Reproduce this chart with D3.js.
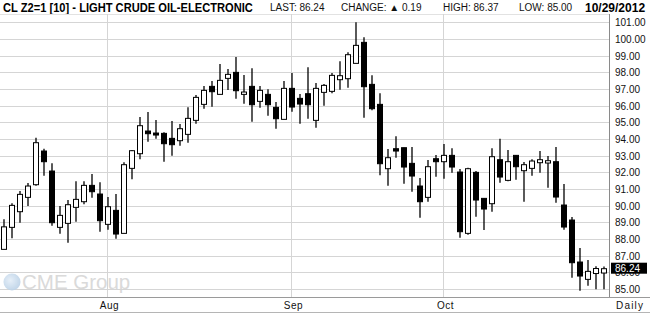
<!DOCTYPE html>
<html>
<head>
<meta charset="utf-8">
<script src="https://cdn.jsdelivr.net/npm/d3@7"></script>
<style>
  body { margin: 0; background: #fff; }
  svg { display: block; font-family: "Liberation Sans", Arial, sans-serif; }
</style>
</head>
<body>
<div id="chart"></div>
<script>
// trading days, 13 Jul 2012 - 29 Oct 2012
const dates = [
  "2012-07-13","2012-07-16","2012-07-17","2012-07-18","2012-07-19","2012-07-20",
  "2012-07-23","2012-07-24","2012-07-25","2012-07-26","2012-07-27","2012-07-30","2012-07-31",
  "2012-08-01","2012-08-02","2012-08-03","2012-08-06","2012-08-07","2012-08-08","2012-08-09",
  "2012-08-10","2012-08-13","2012-08-14","2012-08-15","2012-08-16","2012-08-17","2012-08-20",
  "2012-08-21","2012-08-22","2012-08-23","2012-08-24","2012-08-27","2012-08-28","2012-08-29",
  "2012-08-30","2012-08-31",
  "2012-09-04","2012-09-05","2012-09-06","2012-09-07","2012-09-10","2012-09-11","2012-09-12",
  "2012-09-13","2012-09-14","2012-09-17","2012-09-18","2012-09-19","2012-09-20","2012-09-21",
  "2012-09-24","2012-09-25","2012-09-26","2012-09-27","2012-09-28",
  "2012-10-01","2012-10-02","2012-10-03","2012-10-04","2012-10-05","2012-10-08","2012-10-09",
  "2012-10-10","2012-10-11","2012-10-12","2012-10-15","2012-10-16","2012-10-17","2012-10-18",
  "2012-10-19","2012-10-22","2012-10-23","2012-10-24","2012-10-25","2012-10-26","2012-10-29"
];

const open = [
  87.40,88.72,89.66,90.52,91.28,93.30,92.10,88.72,88.96,89.92,90.26,91.24,90.72,
  88.90,89.74,88.36,92.26,93.14,94.50,94.38,94.36,94.06,93.92,94.30,95.14,96.10,97.18,
  96.70,97.66,98.02,96.70,97.18,96.28,96.70,95.92,95.20,
  97.06,96.46,96.74,95.14,96.82,96.88,97.58,97.64,98.56,99.82,97.30,96.10,92.24,93.44,
  93.50,92.56,91.20,90.52,92.84,
  92.66,93.04,92.04,88.36,92.02,90.46,90.14,92.78,91.54,93.04,92.12,92.26,92.60,92.58,
  92.66,90.06,89.16,86.64,85.60,85.95,85.98
];
const high = [
  89.20,90.16,90.90,91.38,94.10,93.44,92.56,90.00,90.36,91.48,91.48,91.92,91.42,
  90.54,90.72,92.62,93.36,95.34,95.64,95.16,94.42,95.10,94.92,95.92,96.66,97.20,97.50,
  98.52,98.22,98.94,97.86,98.26,97.20,97.00,96.24,97.50,
  97.98,96.72,98.32,97.38,97.32,97.98,98.68,99.22,101.02,100.12,97.84,96.76,93.42,94.18,
  93.50,93.54,91.68,92.76,93.06,
  93.72,93.46,92.22,92.30,92.10,90.46,93.46,94.04,93.36,93.06,92.64,92.80,93.30,93.00,
  93.54,91.32,89.34,87.48,86.76,86.38,86.37
];
const low = [
  87.40,88.06,89.00,90.00,91.22,91.82,88.82,88.34,87.80,89.06,90.10,90.50,88.46,
  88.58,88.04,88.36,91.60,92.80,93.86,94.04,92.66,93.02,93.62,93.80,94.94,95.84,95.96,
  96.70,96.96,96.44,96.14,95.06,95.90,95.42,94.64,95.20,
  95.66,94.94,95.24,94.70,96.02,96.76,96.98,97.10,98.56,95.30,95.74,91.84,91.22,92.90,
  91.34,90.86,89.30,90.26,91.76,
  91.64,92.00,88.10,88.28,89.36,88.56,89.66,91.40,91.48,91.58,90.26,91.82,92.00,91.10,
  90.20,88.58,85.70,84.92,85.22,85.00,85.00
];
const close = [
  88.75,90.04,90.70,91.20,93.80,92.66,89.00,89.44,90.08,90.40,91.24,90.86,89.12,
  89.96,88.32,92.48,93.32,94.82,94.34,94.26,93.74,93.68,94.64,95.26,96.52,96.94,96.86,
  97.54,97.90,96.92,96.84,96.08,96.94,96.08,95.24,97.06,
  95.94,96.12,96.08,97.06,97.24,97.84,97.82,99.08,99.64,97.16,95.84,92.54,92.90,93.30,
  92.34,91.80,90.26,92.36,92.66,
  93.04,92.34,88.46,92.24,90.36,89.82,92.96,91.74,92.66,92.36,92.48,92.70,92.78,92.72,
  90.54,88.74,86.60,85.80,86.08,86.25,86.24
];

const priceTicks = d3.range(85, 102, 1);
const lastPrice = 86.24;
const header = [
  { text: "LAST: 86.24", x: 270 },
  { text: "CHANGE: \u25B2 0.19", x: 341 },
  { text: "HIGH: 86.37", x: 443 },
  { text: "LOW: 85.00", x: 519 }
];

const width = 650, height = 314;
const plot = { left: 0, right: 610, top: 14, bottom: 297 };

const candles = dates.map((d, i) => ({
  date: d, o: open[i], h: high[i], l: low[i], c: close[i]
}));

const svg = d3.select("#chart").append("svg")
  .attr("width", width)
  .attr("height", height);

const x = d3.scaleBand()
  .domain(dates)
  .range([0, 608]);

const y = d3.scaleLinear()
  .domain([84.542, 101.522])
  .range([plot.bottom, plot.top]);

const parse = d3.timeParse("%Y-%m-%d");
const cx = d => x(d) + x.bandwidth() / 2;

// first trading day of each new month
const monthStarts = dates.filter((d, i) => i > 0 && parse(d).getMonth() !== parse(dates[i - 1]).getMonth());

// squeeze a bold text horizontally so it fits between x0 and x0 + w
function fitText(sel, x0, w) {
  const natural = sel.node().getComputedTextLength();
  const k = Math.min(1, w / natural);
  sel.attr("x", 0).attr("transform", `translate(${x0},0) scale(${k},1)`);
}

// header
const title = svg.append("text")
  .attr("y", 12)
  .attr("font-family", "'Liberation Sans Narrow', 'Arial Narrow', 'Liberation Sans', Arial, sans-serif")
  .attr("font-weight", "bold")
  .attr("font-size", 13)
  .text("CL Z2=1 [10] - LIGHT CRUDE OIL-ELECTRONIC");
fitText(title, 3, 250);

svg.selectAll(".hdr")
  .data(header)
  .enter().append("text")
  .attr("class", "hdr")
  .attr("x", d => d.x).attr("y", 11)
  .attr("font-size", 10)
  .attr("fill", "#111")
  .text(d => d.text);

const dateLabel = svg.append("text")
  .attr("y", 12)
  .attr("font-weight", "bold")
  .attr("font-size", 12)
  .text(d3.timeFormat("%m/%d/%Y")(parse(dates[dates.length - 1])));
fitText(dateLabel, 585, 61);

// grid
const grid = svg.append("g").attr("stroke", "#d5d5d5").attr("stroke-width", 1);

grid.append("line")
  .attr("x1", 0).attr("x2", plot.right)
  .attr("y1", plot.top + 0.5).attr("y2", plot.top + 0.5)
  .attr("stroke", "#e2e2e2");

grid.selectAll(".hgrid")
  .data(priceTicks)
  .enter().append("line")
  .attr("x1", 0).attr("x2", plot.right)
  .attr("y1", d => Math.floor(y(d)) + 0.5)
  .attr("y2", d => Math.floor(y(d)) + 0.5);

grid.selectAll(".vgrid")
  .data(monthStarts)
  .enter().append("line")
  .attr("x1", d => Math.floor(cx(d)) - 0.5)
  .attr("x2", d => Math.floor(cx(d)) - 0.5)
  .attr("y1", plot.top).attr("y2", plot.bottom);

// CME watermark
const wm = svg.append("g").attr("opacity", 0.9);
const globe = svg.append("defs").append("radialGradient")
  .attr("id", "globe").attr("cx", "40%").attr("cy", "40%").attr("r", "65%");
globe.append("stop").attr("offset", "0%").attr("stop-color", "#e4eef8");
globe.append("stop").attr("offset", "100%").attr("stop-color", "#b9d0e6");
wm.append("circle")
  .attr("cx", 12).attr("cy", 282).attr("r", 8.5)
  .attr("fill", "url(#globe)");
wm.append("text")
  .attr("x", 22).attr("y", 289)
  .attr("font-size", 20.5)
  .attr("fill", "#d6d6d6")
  .text("CME Group");

// candles
const g = svg.append("g");

g.selectAll(".wick")
  .data(candles)
  .enter().append("line")
  .attr("x1", d => cx(d.date)).attr("x2", d => cx(d.date))
  .attr("y1", d => y(d.h)).attr("y2", d => y(d.l))
  .attr("stroke", "#000")
  .attr("stroke-width", 1.3);

g.selectAll(".body")
  .data(candles)
  .enter().append("rect")
  .attr("x", d => cx(d.date) - 2.5)
  .attr("width", 5)
  .attr("y", d => y(Math.max(d.o, d.c)))
  .attr("height", d => Math.max(1, Math.abs(y(d.o) - y(d.c))))
  .attr("fill", d => d.c >= d.o ? "#fff" : "#000")
  .attr("stroke", "#000")
  .attr("stroke-width", 1);

// right price axis
const yAxis = d3.axisRight(y)
  .tickValues(priceTicks)
  .tickSize(0)
  .tickPadding(5)
  .tickFormat(d3.format(".2f"));

svg.append("g")
  .attr("transform", `translate(${plot.right},0)`)
  .call(yAxis)
  .call(s => s.select(".domain").remove())
  .selectAll("text")
  .attr("font-family", "'Liberation Sans', Arial, sans-serif")
  .attr("font-size", 10)
  .attr("fill", "#111");

svg.append("line")
  .attr("x1", plot.right - 0.5).attr("x2", plot.right - 0.5)
  .attr("y1", plot.top).attr("y2", plot.bottom)
  .attr("stroke", "#8a8a8a");

// last price tag (covers the 86.00 label, as in the source)
const tag = svg.append("g");
tag.append("rect")
  .attr("x", plot.right + 1).attr("y", y(lastPrice) - 6)
  .attr("width", 36).attr("height", 11)
  .attr("fill", "#000");
tag.append("text")
  .attr("x", plot.right + 5).attr("y", y(lastPrice) + 3.5)
  .attr("font-size", 10)
  .attr("fill", "#fff")
  .text(d3.format(".2f")(lastPrice));

// bottom time axis
svg.append("line")
  .attr("x1", 0).attr("x2", width)
  .attr("y1", plot.bottom + 0.5).attr("y2", plot.bottom + 0.5)
  .attr("stroke", "#9a9a9a");

svg.append("line")
  .attr("x1", 0).attr("x2", width)
  .attr("y1", 312.5).attr("y2", 312.5)
  .attr("stroke", "#b5b5b5");

svg.selectAll(".month")
  .data(monthStarts)
  .enter().append("text")
  .attr("x", d => cx(d) + 1.5)
  .attr("y", 309)
  .attr("text-anchor", "middle")
  .attr("font-size", 10)
  .attr("letter-spacing", 0.5)
  .attr("fill", "#111")
  .text(d => d3.timeFormat("%b")(parse(d)));

svg.append("text")
  .attr("x", 616).attr("y", 309)
  .attr("font-size", 10)
  .attr("letter-spacing", 1.2)
  .attr("fill", "#111")
  .text("Daily");
</script>
</body>
</html>
